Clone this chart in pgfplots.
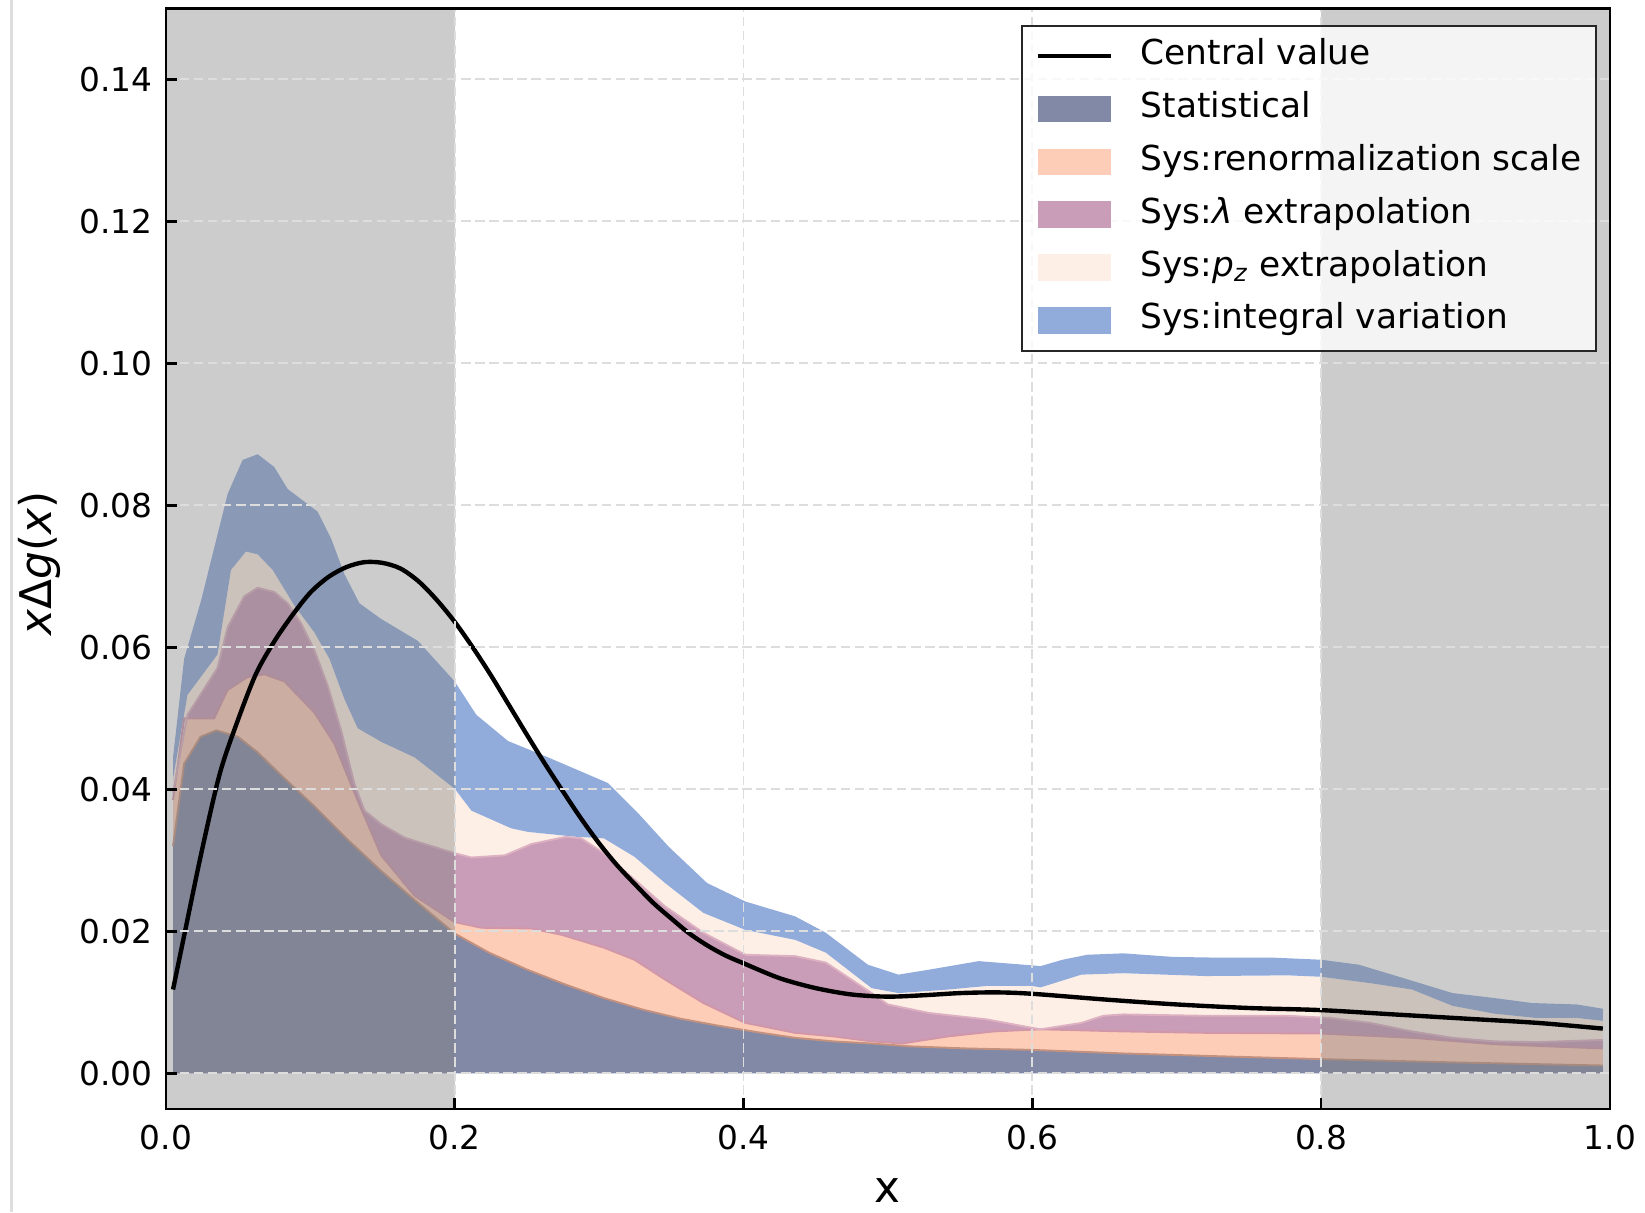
\documentclass[border=0pt]{standalone}
\usepackage{fontspec}
\setmainfont{DejaVu Sans}
\usepackage{pgfplots}
\pgfplotsset{compat=1.18}
\usepgfplotslibrary{fillbetween}
\definecolor{statc}{HTML}{8289A6}
\definecolor{renc}{HTML}{FDCDB8}
\definecolor{lamc}{HTML}{C99CB8}
\definecolor{pzc}{HTML}{FDEFE5}
\definecolor{intc}{HTML}{91ABDB}
\definecolor{gridc}{HTML}{DDDDDD}
\definecolor{edgeA}{HTML}{C4917F}
\definecolor{edgeB}{HTML}{D197A8}
\definecolor{edgeC}{HTML}{DDB1C1}
\pgfplotsset{
  patchlegend/.style={legend image code/.code={\fill[##1, draw=none, fill opacity=1] (0pt,-4.25pt) rectangle (23.4pt,4.25pt);}},
  linelegend/.style={legend image code/.code={\draw[##1, draw opacity=1] (0pt,0pt) -- (23.4pt,0pt);}},
}
\begin{document}
\begin{tikzpicture}
\begin{axis}[
  at={(0pt,0pt)}, anchor=south west,
  scale only axis, width=462.14pt, height=352.13pt,
  xmin=0, xmax=1, ymin=-0.005, ymax=0.15,
  set layers=axis on top,
  axis on top,
  xtick={0,0.2,0.4,0.6,0.8,1.0},
  ytick={0,0.02,0.04,0.06,0.08,0.10,0.12,0.14},
  scaled x ticks=false, scaled y ticks=false,
  /pgf/number format/assume math mode=true,
  ticklabel style={font=\fontsize{10.5}{12}\selectfont},
  xticklabel style={yshift=-1.7pt, /pgf/number format/.cd, fixed, fixed zerofill, precision=1},
  yticklabel style={xshift=-0.7pt, /pgf/number format/.cd, fixed, fixed zerofill, precision=2},
  tick align=inside, tick pos=left,
  major tick length=3.5pt,
  tick style={black, line width=0.8pt},
  axis line style={line width=0.8pt},
  grid=major,
  major grid style={gridc, dash pattern=on 3pt off 1.5pt, line width=0.6pt},
  label style={font=\fontsize{14}{16}\selectfont},
  xlabel={x},
  ylabel={\textit{x}Δ\textit{g}(\textit{x})},
  xlabel style={at={(axis description cs:0.5,-0.0847)}, anchor=base},
  ylabel style={at={(axis description cs:-0.0873,0.4955)}, anchor=center},
  legend cell align=left,
  legend style={at={(0.991,0.985)}, anchor=north east, draw=black!85, line width=0.6pt,
    fill=white, fill opacity=0.8, text opacity=1,
    font=\fontsize{11}{13}\selectfont, inner xsep=4.2pt, inner ysep=3.5pt, row sep=4.4pt,
    /tikz/every odd column/.append style={column sep=8.4pt},
    nodes={inner xsep=0.5pt, inner ysep=1pt, text height=8pt, text depth=2.5pt, text opacity=1}},
]
% boundaries
\addplot[draw=none, name path=s0, forget plot] coordinates {(0.005,0) (0.995,0)};
\addplot[edgeA, line width=0.6pt, name path=s1, forget plot] coordinates {
(0.005,0.032) (0.0127,0.0436) (0.024,0.0474) (0.035,0.0483) (0.05,0.0474) (0.0636,0.0452)
(0.0798,0.042) (0.1029,0.0376) (0.126,0.0329) (0.1491,0.0285) (0.1723,0.0244) (0.2,0.0197)
(0.2238,0.017) (0.2503,0.0146) (0.2768,0.0125) (0.3033,0.0106) (0.3298,0.009) (0.3563,0.0077)
(0.3828,0.0067) (0.4093,0.0058) (0.4358,0.005) (0.4623,0.0045) (0.4887,0.0042) (0.5152,0.0038)
(0.555,0.0035) (0.6,0.0033) (0.663,0.0028) (0.73,0.0024) (0.8,0.002) (0.9,0.0015) (0.995,0.0011)};
\addplot[edgeB, line width=0.6pt, name path=s2, forget plot] coordinates {
(0.005,0.0385) (0.0127,0.050) (0.0335,0.0500) (0.0428,0.054) (0.0566,0.0558) (0.0682,0.0562)
(0.0821,0.0552) (0.1029,0.0508) (0.1168,0.0464) (0.1306,0.0395) (0.1491,0.0307) (0.1723,0.025)
(0.2,0.0213) (0.2185,0.0205) (0.2532,0.0204) (0.2742,0.0195) (0.3033,0.0177) (0.3245,0.016)
(0.3457,0.0132) (0.3722,0.0099) (0.4013,0.0071) (0.4358,0.0057) (0.4623,0.0052) (0.4887,0.0045)
(0.51,0.0042) (0.5417,0.0052) (0.5735,0.0059) (0.6057,0.0062) (0.663,0.0059) (0.72,0.0057)
(0.8,0.0056) (0.863,0.005) (0.92,0.0041) (0.995,0.0035)};
\addplot[edgeC, line width=0.6pt, name path=s3, forget plot] coordinates {
(0.005,0.0395) (0.015,0.0505) (0.0358,0.0571) (0.0428,0.0628) (0.0543,0.0672) (0.0636,0.0684)
(0.0751,0.0678) (0.0844,0.0662) (0.0936,0.0634) (0.1029,0.0596) (0.1121,0.0546) (0.1214,0.0483)
(0.1306,0.0408) (0.1376,0.037) (0.1491,0.0351) (0.1653,0.0332) (0.1746,0.0326) (0.2,0.031)
(0.2116,0.0304) (0.2347,0.0307) (0.2532,0.0323) (0.2768,0.0333) (0.2877,0.0331) (0.3033,0.031)
(0.3245,0.0273) (0.3457,0.0235) (0.3722,0.0198) (0.4013,0.0167) (0.4358,0.0165) (0.457,0.0156)
(0.4887,0.0113) (0.5,0.0097) (0.5285,0.0085) (0.5682,0.0076) (0.6,0.0064) (0.6057,0.0062)
(0.634,0.0071) (0.649,0.0081) (0.663,0.0083) (0.72,0.0081) (0.777,0.0081) (0.806,0.0078)
(0.834,0.0071) (0.863,0.0059) (0.891,0.005) (0.92,0.0045) (0.949,0.0044) (0.995,0.0047)};
\addplot[draw=none, name path=s4, forget plot] coordinates {
(0.005,0.0415) (0.015,0.0533) (0.0358,0.059) (0.0451,0.0709) (0.0555,0.0735) (0.0636,0.0731)
(0.074,0.0709) (0.089,0.0659) (0.1029,0.0621) (0.1133,0.0584) (0.1237,0.0527) (0.1329,0.0486)
(0.1491,0.0467) (0.1723,0.0445) (0.2,0.0401) (0.2116,0.037) (0.2393,0.0345) (0.2509,0.034)
(0.285,0.0333) (0.3033,0.0331) (0.3245,0.0305) (0.3457,0.0268) (0.3722,0.0226) (0.4013,0.0202)
(0.4358,0.0188) (0.457,0.017) (0.4887,0.012) (0.5073,0.0113) (0.5417,0.0118) (0.5682,0.0123)
(0.6,0.0123) (0.6057,0.0121) (0.634,0.0139) (0.663,0.0141) (0.72,0.0137) (0.777,0.0138)
(0.8,0.0136) (0.834,0.0127) (0.863,0.0118) (0.891,0.0095) (0.92,0.0084) (0.949,0.0078)
(0.977,0.0078) (0.995,0.0074)};
\addplot[draw=none, name path=s5, forget plot] coordinates {
(0.005,0.0445) (0.0127,0.0584) (0.0243,0.0665) (0.0428,0.0816) (0.0532,0.0864) (0.0636,0.0872)
(0.0751,0.0854) (0.0844,0.0823) (0.1052,0.0791) (0.1145,0.0753) (0.1237,0.0703) (0.1341,0.0662)
(0.1491,0.064) (0.1746,0.0609) (0.2,0.0552) (0.215,0.0505) (0.237,0.0468) (0.2647,0.0445)
(0.306,0.0409) (0.3272,0.0366) (0.3483,0.0319) (0.3748,0.0268) (0.4013,0.0242) (0.4358,0.0221)
(0.457,0.0198) (0.4861,0.0153) (0.5073,0.0139) (0.5285,0.0146) (0.5629,0.0158) (0.6,0.0152)
(0.6057,0.0151) (0.621,0.016) (0.638,0.0167) (0.663,0.0169) (0.697,0.0164) (0.726,0.0163)
(0.766,0.0163) (0.8,0.016) (0.826,0.0153) (0.849,0.0139) (0.891,0.0113) (0.92,0.0106)
(0.946,0.0099) (0.977,0.0097) (0.995,0.0091)};
% bands
\addplot[fill=statc, draw=none, forget plot] fill between[of=s0 and s1];
\addplot[fill=renc, draw=none, forget plot] fill between[of=s1 and s2];
\addplot[fill=lamc, draw=none, forget plot] fill between[of=s2 and s3];
\addplot[fill=pzc, draw=none, forget plot] fill between[of=s3 and s4];
\addplot[fill=intc, draw=none, forget plot] fill between[of=s4 and s5];
% shaded x ranges
\addplot[draw=none, fill=gray, fill opacity=0.4, forget plot] coordinates {(0,-0.005) (0.2,-0.005) (0.2,0.15) (0,0.15)} -- cycle;
\addplot[draw=none, fill=gray, fill opacity=0.4, forget plot] coordinates {(0.8,-0.005) (1,-0.005) (1,0.15) (0.8,0.15)} -- cycle;
% central value
\addplot[black, line width=1.4pt, smooth, forget plot] coordinates {
(0.005,0.0118) (0.0125,0.0192) (0.025,0.0314) (0.0375,0.0423) (0.05,0.0498) (0.0625,0.0563)
(0.075,0.0608) (0.0875,0.0645) (0.1,0.0677) (0.1125,0.0699) (0.125,0.0713) (0.1375,0.0720)
(0.15,0.0719) (0.1625,0.0711) (0.175,0.0693) (0.1875,0.0667) (0.2,0.0636) (0.2125,0.0600)
(0.225,0.0561) (0.2375,0.0519) (0.25,0.0477) (0.2625,0.0436) (0.275,0.0397) (0.2875,0.0359)
(0.3,0.0324) (0.3125,0.0293) (0.325,0.0266) (0.3375,0.0240) (0.35,0.0218) (0.3625,0.0197)
(0.375,0.0180) (0.3875,0.0166) (0.4,0.0155) (0.425,0.0134) (0.45,0.0120) (0.475,0.0111)
(0.5,0.0108) (0.525,0.0110) (0.55,0.0113) (0.575,0.0114) (0.6,0.0112) (0.65,0.0104)
(0.7,0.0097) (0.75,0.0092) (0.8,0.0089) (0.85,0.0083) (0.9,0.0077) (0.95,0.0071) (0.995,0.0063)};
\addlegendimage{linelegend, black, line width=1.4pt}
\addlegendimage{patchlegend, fill=statc}
\addlegendimage{patchlegend, fill=renc}
\addlegendimage{patchlegend, fill=lamc}
\addlegendimage{patchlegend, fill=pzc}
\addlegendimage{patchlegend, fill=intc}
\legend{Central value, Statistical, Sys:renormalization scale, Sys:\textit{λ} extrapolation, Sys:\textit{p}\textsubscript{\textit{z}} extrapolation, Sys:integral variation}
\end{axis}
\pgfresetboundingbox
\useasboundingbox (-53.06pt,-33.02pt) rectangle (473.34pt,354.82pt);
\draw[black!13, line width=0.9pt] (-49.3pt,-33.02pt) -- (-49.3pt,354.82pt);
\end{tikzpicture}
\end{document}
